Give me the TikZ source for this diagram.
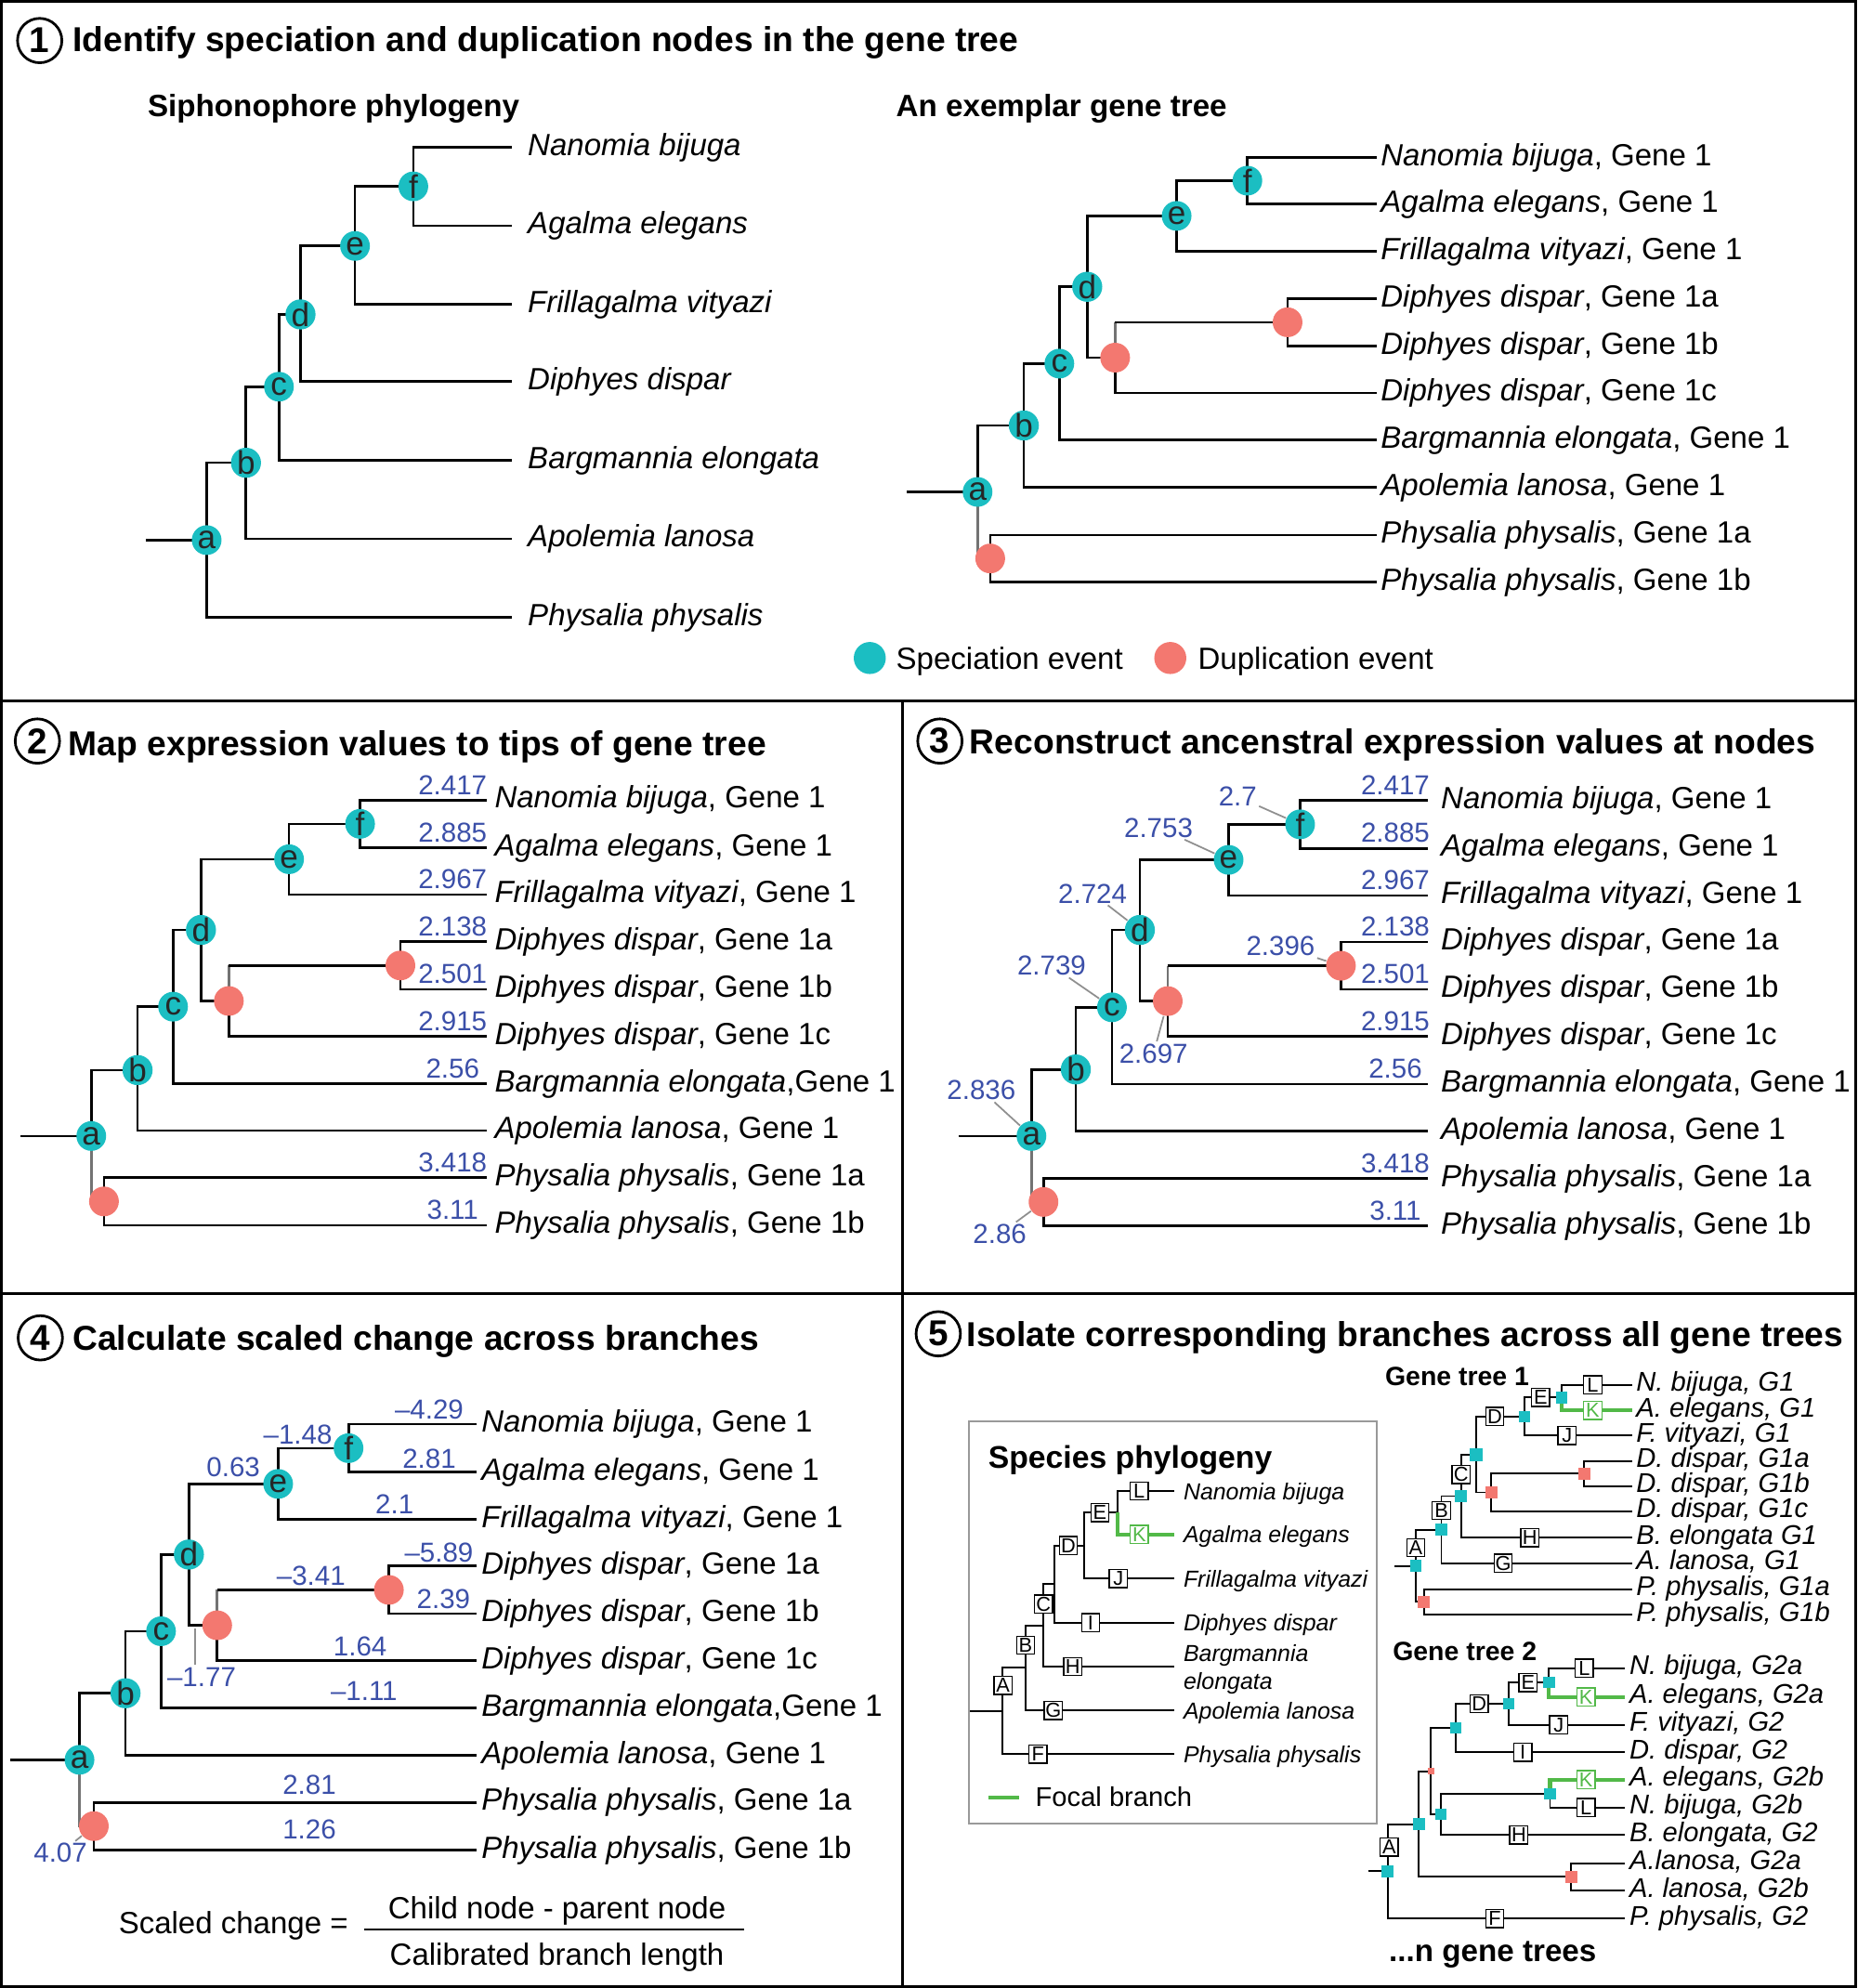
\documentclass[tikz,border=0pt]{standalone}
\usepackage{fontspec}
\setmainfont{Liberation Sans}
\usepackage{tikz}
\usetikzlibrary{backgrounds}
\usepackage{xcolor}
\definecolor{spteal}{HTML}{1BBEC2}
\definecolor{dupred}{HTML}{F37870}
\definecolor{valblue}{HTML}{3B4FA8}
\definecolor{focgreen}{HTML}{52B948}
\definecolor{leadgray}{HTML}{8F8F8F}
\newcommand\fsp{\fontsize{9.4}{11}\selectfont}
\newcommand\fttl{\fontsize{10.6}{12}\selectfont\bfseries}
\newcommand\fsub{\fontsize{9.45}{11}\selectfont\bfseries}
\newcommand\fval{\fontsize{8.4}{10}\selectfont}
\newcommand\fnode{\fontsize{10}{12}\selectfont}
\newcommand\fnum{\fontsize{11}{12}\selectfont\bfseries}
\newcommand\fgen{\fontsize{8.3}{10}\selectfont\itshape}
\newcommand\fgtl{\fontsize{8.1}{10}\selectfont\bfseries}
\newcommand\fspb{\fontsize{7.1}{8.5}\selectfont\itshape}
\newcommand\fltr{\fontsize{6.2}{7}\selectfont}
\tikzset{spec/.style = {shape=circle,fill=spteal,inner sep=0pt,minimum size=0.32cm,font=\fnode,text=black!85}}
\tikzset{dup/.style = {shape=circle,fill=dupred,inner sep=0pt,minimum size=0.32cm}}
\tikzset{edge/.style = {line width=0.75pt}}
\tikzset{edgeg/.style = {line width=0.75pt,draw=black!55}}
\tikzset{leaf/.style = {anchor=base west,inner sep=0pt,font=\fsp,xshift=#1,yshift=-2.5pt}}
\tikzset{val/.style = {anchor=south,inner sep=1.5pt,font=\fval,text=valblue}}
\tikzset{bval/.style = {inner sep=0.5pt,font=\fval,text=valblue}}
\tikzset{lead/.style = {draw=leadgray,line width=0.5pt}}
\tikzset{num/.style = {shape=circle,draw,line width=0.8pt,inner sep=0pt,minimum size=0.478cm,font=\fnum}}
\tikzset{ttl/.style = {anchor=base west,inner sep=0pt,font=\fttl}}
\tikzset{subttl/.style = {anchor=base west,inner sep=0pt,font=\fsub}}
\tikzset{legt/.style = {anchor=base west,inner sep=0pt,font=\fsp}}
\tikzset{frame/.style = {line width=0.8pt}}
\tikzset{gedge/.style = {line width=0.55pt}}
\tikzset{focal/.style = {line width=1.15pt,draw=focgreen}}
\tikzset{lbox/.style = {draw,fill=white,line width=0.4pt,inner sep=0pt,minimum size=0.195cm,font=\fltr}}
\tikzset{lboxg/.style = {lbox,draw=focgreen,text=focgreen}}
\tikzset{tsq/.style = {fill=spteal,inner sep=0pt,minimum size=0.125cm}}
\tikzset{rsq/.style = {fill=dupred,inner sep=0pt,minimum size=0.125cm}}
\tikzset{gleaf/.style = {anchor=base west,inner sep=0pt,font=\fgen,xshift=1.2pt,yshift=-2pt}}
\tikzset{qleaf/.style = {anchor=base west,inner sep=0pt,font=\fspb,xshift=2.7pt,yshift=-2.6pt}}
\tikzset{gtl/.style = {anchor=base west,inner sep=0pt,font=\fgtl}}

\begin{document}
\begin{tikzpicture}[x=0.01365cm,y=-0.01365cm]
		\useasboundingbox (0,0) rectangle (1465,1568);
		% frame
		\draw[frame] (1,1) rectangle (1463.5,1567);
		\draw[frame] (1,553) -- (1463.5,553);
		\draw[frame] (1,1020) -- (1463.5,1020);
		\draw[frame] (712,553) -- (712,1567);

		% panel 1
		\node[num] (h1) at (31.3,32) {1};
		\node[ttl] (t1) at (57,41) {Identify speciation and duplication nodes in the gene tree};
		\node[subttl] (s1) at (116,92.2) {Siphonophore phylogeny};
		\node[subttl] (s2) at (706.3,92.2) {An exemplar gene tree};
		% species tree vertices
		\coordinate (sr) at (115,426);
		\node[spec] (sa) at (163,426) {a};
		\node[spec] (sb) at (194,365) {b};
		\node[spec] (sc) at (220,305) {c};
		\node[spec] (sd) at (237,248) {d};
		\node[spec] (se) at (280,194) {e};
		\node[spec] (sf) at (326,147) {f};
		\coordinate (st1) at (404,116);
		\coordinate (st2) at (404,178);
		\coordinate (st3) at (404,240);
		\coordinate (st4) at (404,301);
		\coordinate (st5) at (404,363);
		\coordinate (st6) at (404,425);
		\coordinate (st7) at (404,487);
		\node[leaf=4.6pt] (sl1) at (st1) {\textit{Nanomia bijuga}};
		\node[leaf=4.6pt] (sl2) at (st2) {\textit{Agalma elegans}};
		\node[leaf=4.6pt] (sl3) at (st3) {\textit{Frillagalma vityazi}};
		\node[leaf=4.6pt] (sl4) at (st4) {\textit{Diphyes dispar}};
		\node[leaf=4.6pt] (sl5) at (st5) {\textit{Bargmannia elongata}};
		\node[leaf=4.6pt] (sl6) at (st6) {\textit{Apolemia lanosa}};
		\node[leaf=4.6pt] (sl7) at (st7) {\textit{Physalia physalis}};
		% gene tree vertices
		\coordinate (gr) at (715,388);
		\node[spec] (ga) at (771,388) {a};
		\node[spec] (gb) at (807.5,335.6) {b};
		\node[spec] (gc) at (835.5,286.8) {c};
		\node[spec] (gd) at (857.5,226.2) {d};
		\node[spec] (ge) at (928,170.3) {e};
		\node[spec] (gf) at (983.8,142.5) {f};
		\node[dup] (gx0) at (781,440.5) {};
		\node[dup] (gx1) at (879.5,282.1) {};
		\node[dup] (gx2) at (1015.5,254.2) {};
		\coordinate (gt1) at (1086,124);
		\coordinate (gt2) at (1086,161);
		\coordinate (gt3) at (1086,198);
		\coordinate (gt4) at (1086,235.5);
		\coordinate (gt5) at (1086,273);
		\coordinate (gt6) at (1086,310);
		\coordinate (gt7) at (1086,347);
		\coordinate (gt8) at (1086,384.5);
		\coordinate (gt9) at (1086,422);
		\coordinate (gt10) at (1086,459);
		\node[leaf=1pt] (gl1) at (gt1) {\textit{Nanomia bijuga}, Gene 1};
		\node[leaf=1pt] (gl2) at (gt2) {\textit{Agalma elegans}, Gene 1};
		\node[leaf=1pt] (gl3) at (gt3) {\textit{Frillagalma vityazi}, Gene 1};
		\node[leaf=1pt] (gl4) at (gt4) {\textit{Diphyes dispar}, Gene 1a};
		\node[leaf=1pt] (gl5) at (gt5) {\textit{Diphyes dispar}, Gene 1b};
		\node[leaf=1pt] (gl6) at (gt6) {\textit{Diphyes dispar}, Gene 1c};
		\node[leaf=1pt] (gl7) at (gt7) {\textit{Bargmannia elongata}, Gene 1};
		\node[leaf=1pt] (gl8) at (gt8) {\textit{Apolemia lanosa}, Gene 1};
		\node[leaf=1pt] (gl9) at (gt9) {\textit{Physalia physalis}, Gene 1a};
		\node[leaf=1pt] (gl10) at (gt10) {\textit{Physalia physalis}, Gene 1b};
		% legend
		\node[spec,minimum size=0.345cm] (lg1) at (686,519) {};
		\node[legt] (lg1t) at (706.3,528) {Speciation event};
		\node[dup,minimum size=0.345cm] (lg2) at (923,519) {};
		\node[legt] (lg2t) at (944.4,528) {Duplication event};
		%edges
		\begin{scope}[on background layer]
		\draw[edge] (sr) -- (sa.center) |- (sb.center);
		\draw[edge] (sa.center) |- (st7);
		\draw[edge] (sc.center) -| (sb.center) |- (st6);
		\draw[edge] (sd.center) -| (sc.center) |- (st5);
		\draw[edge] (se.center) -| (sd.center) |- (st4);
		\draw[edge] (sf.center) -| (se.center) |- (st3);
		\draw[edge] (st1) -| (sf.center) |- (st2);
		\draw[edge] (gr) -- (ga.center) |- (gb.center);
		\draw[edgeg] (ga.center) |- (gx0.center);
		\draw[edge] (gt9) -| (gx0.center) |- (gt10);
		\draw[edge] (gc.center) -| (gb.center) |- (gt8);
		\draw[edge] (gd.center) -| (gc.center) |- (gt7);
		\draw[edge] (ge.center) -| (gd.center) |- (gx1.center);
		\draw[edgeg] (gx1.center) -- (gx1.center |- gx2.center);
		\draw[edge] (gx1.center |- gx2.center) -- (gx2.center);
		\draw[edge] (gx1.center) |- (gt6);
		\draw[edge] (gt4) -| (gx2.center) |- (gt5);
		\draw[edge] (gf.center) -| (ge.center) |- (gt3);
		\draw[edge] (gt1) -| (gf.center) |- (gt2);
		\end{scope}

		% panel 2
		\node[num] (h2) at (29.5,584.5) {2};
		\node[ttl] (t2) at (53.6,596) {Map expression values to tips of gene tree};
		\coordinate (mr) at (16,896);
		\node[spec] (ma) at (72,896) {a};
		\node[spec] (mb) at (108.5,844) {b};
		\node[spec] (mc) at (136.5,794) {c};
		\node[spec] (md) at (158.5,733.5) {d};
		\node[spec] (me) at (228,677.7) {e};
		\node[spec] (mf) at (284,649.8) {f};
		\node[dup] (mx0) at (82,947.6) {};
		\node[dup] (mx1) at (180.5,789.5) {};
		\node[dup] (mx2) at (315.8,761.5) {};
		\coordinate (mt1) at (384,631);
		\coordinate (mt2) at (384,668.5);
		\coordinate (mt3) at (384,705.6);
		\coordinate (mt4) at (384,742.7);
		\coordinate (mt5) at (384,780.4);
		\coordinate (mt6) at (384,817.5);
		\coordinate (mt7) at (384,854.6);
		\coordinate (mt8) at (384,891.7);
		\coordinate (mt9) at (384,928.8);
		\coordinate (mt10) at (384,966.5);
		\node[leaf=2.2pt] (ml1) at (mt1) {\textit{Nanomia bijuga}, Gene 1};
		\node[leaf=2.2pt] (ml2) at (mt2) {\textit{Agalma elegans}, Gene 1};
		\node[leaf=2.2pt] (ml3) at (mt3) {\textit{Frillagalma vityazi}, Gene 1};
		\node[leaf=2.2pt] (ml4) at (mt4) {\textit{Diphyes dispar}, Gene 1a};
		\node[leaf=2.2pt] (ml5) at (mt5) {\textit{Diphyes dispar}, Gene 1b};
		\node[leaf=2.2pt] (ml6) at (mt6) {\textit{Diphyes dispar}, Gene 1c};
		\node[leaf=2.2pt] (ml7) at (mt7) {\textit{Bargmannia elongata},Gene 1};
		\node[leaf=2.2pt] (ml8) at (mt8) {\textit{Apolemia lanosa}, Gene 1};
		\node[leaf=2.2pt] (ml9) at (mt9) {\textit{Physalia physalis}, Gene 1a};
		\node[leaf=2.2pt] (ml10) at (mt10) {\textit{Physalia physalis}, Gene 1b};
		\node[val] (mv1) at (357,631) {2.417};
		\node[val] (mv2) at (357,668.5) {2.885};
		\node[val] (mv3) at (357,705.6) {2.967};
		\node[val] (mv4) at (357,742.7) {2.138};
		\node[val] (mv5) at (357,780.4) {2.501};
		\node[val] (mv6) at (357,817.5) {2.915};
		\node[val] (mv7) at (357,854.6) {2.56};
		\node[val] (mv9) at (357,928.8) {3.418};
		\node[val] (mv10) at (357,966.5) {3.11};
		\begin{scope}[on background layer]
		\draw[edge] (mr) -- (ma.center) |- (mb.center);
		\draw[edgeg] (ma.center) |- (mx0.center);
		\draw[edge] (mt9) -| (mx0.center) |- (mt10);
		\draw[edge] (mc.center) -| (mb.center) |- (mt8);
		\draw[edge] (md.center) -| (mc.center) |- (mt7);
		\draw[edge] (me.center) -| (md.center) |- (mx1.center);
		\draw[edgeg] (mx1.center) -- (mx1.center |- mx2.center);
		\draw[edge] (mx1.center |- mx2.center) -- (mx2.center);
		\draw[edge] (mx1.center) |- (mt6);
		\draw[edge] (mt4) -| (mx2.center) |- (mt5);
		\draw[edge] (mf.center) -| (me.center) |- (mt3);
		\draw[edge] (mt1) -| (mf.center) |- (mt2);
		\end{scope}

		% panel 3
		\node[num] (h3) at (741.3,584.5) {3};
		\node[ttl] (t3) at (764.4,594.3) {Reconstruct ancenstral expression values at nodes};
		\coordinate (rr) at (756,896);
		\node[spec] (ra) at (813.5,896) {a};
		\node[spec] (rb) at (848.5,843.5) {b};
		\node[spec] (rc) at (877,794.5) {c};
		\node[spec] (rd) at (899,733.5) {d};
		\node[spec] (re) at (969,678.2) {e};
		\node[spec] (rf) at (1025.4,650.2) {f};
		\node[dup] (rx0) at (823,948) {};
		\node[dup] (rx1) at (921,789.6) {};
		\node[dup] (rx2) at (1057.6,761.7) {};
		\coordinate (rt1) at (1126.5,631.4);
		\coordinate (rt2) at (1126.5,669.1);
		\coordinate (rt3) at (1126.5,706.2);
		\coordinate (rt4) at (1126.5,743);
		\coordinate (rt5) at (1126.5,780.4);
		\coordinate (rt6) at (1126.5,817.5);
		\coordinate (rt7) at (1126.5,855.2);
		\coordinate (rt8) at (1126.5,892.3);
		\coordinate (rt9) at (1126.5,929.4);
		\coordinate (rt10) at (1126.5,966.8);
		\node[leaf=3.7pt] (rl1) at (rt1) {\textit{Nanomia bijuga}, Gene 1};
		\node[leaf=3.7pt] (rl2) at (rt2) {\textit{Agalma elegans}, Gene 1};
		\node[leaf=3.7pt] (rl3) at (rt3) {\textit{Frillagalma vityazi}, Gene 1};
		\node[leaf=3.7pt] (rl4) at (rt4) {\textit{Diphyes dispar}, Gene 1a};
		\node[leaf=3.7pt] (rl5) at (rt5) {\textit{Diphyes dispar}, Gene 1b};
		\node[leaf=3.7pt] (rl6) at (rt6) {\textit{Diphyes dispar}, Gene 1c};
		\node[leaf=3.7pt] (rl7) at (rt7) {\textit{Bargmannia elongata}, Gene 1};
		\node[leaf=3.7pt] (rl8) at (rt8) {\textit{Apolemia lanosa}, Gene 1};
		\node[leaf=3.7pt] (rl9) at (rt9) {\textit{Physalia physalis}, Gene 1a};
		\node[leaf=3.7pt] (rl10) at (rt10) {\textit{Physalia physalis}, Gene 1b};
		\node[val] (rv1) at (1100.5,631.4) {2.417};
		\node[val] (rv2) at (1100.5,669.1) {2.885};
		\node[val] (rv3) at (1100.5,706.2) {2.967};
		\node[val] (rv4) at (1100.5,743) {2.138};
		\node[val] (rv5) at (1100.5,780.4) {2.501};
		\node[val] (rv6) at (1100.5,817.5) {2.915};
		\node[val] (rv7) at (1100.5,855.2) {2.56};
		\node[val] (rv9) at (1100.5,929.4) {3.418};
		\node[val] (rv10) at (1100.5,966.8) {3.11};
		% ancestral values
		\node[bval] (rnf) at (976.2,628.4) {2.7};
		\node[bval] (rne) at (913.7,652.8) {2.753};
		\node[bval] (rnd) at (861.7,704.7) {2.724};
		\node[bval] (rnc) at (829.4,761.7) {2.739};
		\node[bval] (rnx2) at (1010,746.3) {2.396};
		\node[bval] (rnx1) at (909.8,830.8) {2.697};
		\node[bval] (rna) at (774,859.9) {2.836};
		\node[bval] (rnx0) at (788.5,973.3) {2.86};
		\draw[lead] (rnf) -- (rf);
		\draw[lead] (rne) -- (re);
		\draw[lead] (rnd) -- (rd);
		\draw[lead] (rnc) -- (rc);
		\draw[lead] (rnx2) -- (rx2);
		\draw[lead] (rnx1) -- (rx1);
		\draw[lead] (rna) -- (ra);
		\draw[lead] (rnx0) -- (rx0);
		\begin{scope}[on background layer]
		\draw[edge] (rr) -- (ra.center) |- (rb.center);
		\draw[edgeg] (ra.center) |- (rx0.center);
		\draw[edge] (rt9) -| (rx0.center) |- (rt10);
		\draw[edge] (rc.center) -| (rb.center) |- (rt8);
		\draw[edge] (rd.center) -| (rc.center) |- (rt7);
		\draw[edge] (re.center) -| (rd.center) |- (rx1.center);
		\draw[edgeg] (rx1.center) -- (rx1.center |- rx2.center);
		\draw[edge] (rx1.center |- rx2.center) -- (rx2.center);
		\draw[edge] (rx1.center) |- (rt6);
		\draw[edge] (rt4) -| (rx2.center) |- (rt5);
		\draw[edge] (rf.center) -| (re.center) |- (rt3);
		\draw[edge] (rt1) -| (rf.center) |- (rt2);
		\end{scope}

		% panel 4
		\node[num] (h4) at (31.8,1055.2) {4};
		\node[ttl] (t4) at (56.8,1065) {Calculate scaled change across branches};
		\coordinate (kr) at (8,1388);
		\node[spec] (ka) at (62.7,1388) {a};
		\node[spec] (kb) at (99,1335.5) {b};
		\node[spec] (kc) at (127,1286.6) {c};
		\node[spec] (kd) at (149,1226.1) {d};
		\node[spec] (ke) at (219.4,1170.4) {e};
		\node[spec] (kf) at (274.9,1142.2) {f};
		\node[dup] (kx0) at (74,1440.3) {};
		\node[dup] (kx1) at (171.3,1281.9) {};
		\node[dup] (kx2) at (306.7,1254) {};
		\coordinate (kt1) at (376.2,1123.3);
		\coordinate (kt2) at (376.2,1161.1);
		\coordinate (kt3) at (376.2,1198.5);
		\coordinate (kt4) at (376.2,1235.2);
		\coordinate (kt5) at (376.2,1272.7);
		\coordinate (kt6) at (376.2,1309.7);
		\coordinate (kt7) at (376.2,1347.1);
		\coordinate (kt8) at (376.2,1384.5);
		\coordinate (kt9) at (376.2,1421.6);
		\coordinate (kt10) at (376.2,1459);
		\node[leaf=1.2pt] (kl1) at (kt1) {\textit{Nanomia bijuga}, Gene 1};
		\node[leaf=1.2pt] (kl2) at (kt2) {\textit{Agalma elegans}, Gene 1};
		\node[leaf=1.2pt] (kl3) at (kt3) {\textit{Frillagalma vityazi}, Gene 1};
		\node[leaf=1.2pt] (kl4) at (kt4) {\textit{Diphyes dispar}, Gene 1a};
		\node[leaf=1.2pt] (kl5) at (kt5) {\textit{Diphyes dispar}, Gene 1b};
		\node[leaf=1.2pt] (kl6) at (kt6) {\textit{Diphyes dispar}, Gene 1c};
		\node[leaf=1.2pt] (kl7) at (kt7) {\textit{Bargmannia elongata},Gene 1};
		\node[leaf=1.2pt] (kl8) at (kt8) {\textit{Apolemia lanosa}, Gene 1};
		\node[leaf=1.2pt] (kl9) at (kt9) {\textit{Physalia physalis}, Gene 1a};
		\node[leaf=1.2pt] (kl10) at (kt10) {\textit{Physalia physalis}, Gene 1b};
		% branch values
		\node[bval] (kv1) at (338.5,1111.8) {--4.29};
		\node[bval] (kv2) at (338.5,1150.3) {2.81};
		\node[bval] (kv3) at (234.9,1131.4) {--1.48};
		\node[bval] (kv4) at (184,1157.3) {0.63};
		\node[bval] (kv5) at (311.2,1186.3) {2.1};
		\node[bval] (kv6) at (346.2,1224.7) {--5.89};
		\node[bval] (kv7) at (245.3,1242.9) {--3.41};
		\node[bval] (kv8) at (349.8,1261.5) {2.39};
		\node[bval] (kv9) at (284,1298.9) {1.64};
		\node[bval] (kv10) at (159,1322.6) {--1.77};
		\node[bval] (kv11) at (287.1,1333.8) {--1.11};
		\node[bval] (kv12) at (244,1407.6) {2.81};
		\node[bval] (kv13) at (244,1442.6) {1.26};
		\node[bval] (kv14) at (47.7,1461.5) {4.07};
		\coordinate (kq10) at (153.6,1284.2);
		\draw[lead] (kv10.north -| kq10) -- (kq10);
		\draw[lead] (kv14) -- (kx0);
		% formula
		\node[legt] (kf1) at (93.1,1525.4) {Scaled change =};
		\node[anchor=base,inner sep=0pt,font=\fsp] (kf2) at (439.3,1513.2) {Child node - parent node};
		\node[anchor=base,inner sep=0pt,font=\fsp] (kf3) at (439.3,1550) {Calibrated branch length};
		\coordinate (kb1) at (287,1522);
		\coordinate (kb2) at (587,1522);
		\draw[line width=0.6pt] (kb1) -- (kb2);
		\begin{scope}[on background layer]
		\draw[edge] (kr) -- (ka.center) |- (kb.center);
		\draw[edgeg] (ka.center) |- (kx0.center);
		\draw[edge] (kt9) -| (kx0.center) |- (kt10);
		\draw[edge] (kc.center) -| (kb.center) |- (kt8);
		\draw[edge] (kd.center) -| (kc.center) |- (kt7);
		\draw[edge] (ke.center) -| (kd.center) |- (kx1.center);
		\draw[edgeg] (kx1.center) -- (kx1.center |- kx2.center);
		\draw[edge] (kx1.center |- kx2.center) -- (kx2.center);
		\draw[edge] (kx1.center) |- (kt6);
		\draw[edge] (kt4) -| (kx2.center) |- (kt5);
		\draw[edge] (kf.center) -| (ke.center) |- (kt3);
		\draw[edge] (kt1) -| (kf.center) |- (kt2);
		\end{scope}

		% panel 5
		\node[num] (h5) at (740,1052) {5};
		\node[ttl] (t5) at (762,1061.8) {Isolate corresponding branches across all gene trees};
		% species phylogeny box
		\draw[draw=black!40,line width=0.6pt] (764.5,1121) rectangle (1086,1438.6);
		\node[subttl,font=\fontsize{9.6}{11}\selectfont\bfseries] (q0) at (779,1157.8) {Species phylogeny};
		\coordinate (qr) at (765,1349.5);
		\coordinate (qa) at (790.5,1349.5);
		\coordinate (qb) at (808.9,1315.5);
		\coordinate (qc) at (823,1282);
		\coordinate (qd) at (831.6,1249.5);
		\coordinate (qe) at (855.3,1219.1);
		\coordinate (qk) at (881.4,1193.1);
		\coordinate (qt1) at (926,1176);
		\coordinate (qt2) at (926,1210.2);
		\coordinate (qt3) at (926,1245.1);
		\coordinate (qt4) at (926,1279.8);
		\coordinate (qt5) at (926,1314.5);
		\coordinate (qt6) at (926,1349);
		\coordinate (qt7) at (926,1383.6);
		\node[qleaf] (ql1) at (qt1) {Nanomia bijuga};
		\node[qleaf] (ql2) at (qt2) {Agalma elegans};
		\node[qleaf] (ql3) at (qt3) {Frillagalma vityazi};
		\node[qleaf] (ql4) at (qt4) {Diphyes dispar};
		\node[anchor=west,inner sep=0pt,font=\fspb,align=left,xshift=2.7pt,yshift=-0.8pt] (ql5) at (qt5) {Bargmannia\\elongata};
		\node[qleaf] (ql6) at (qt6) {Apolemia lanosa};
		\node[qleaf] (ql7) at (qt7) {Physalia physalis};
		\node[lbox] (qbA) at (791,1329.4) {A};
		\node[lbox] (qbB) at (808.9,1297.6) {B};
		\node[lbox] (qbC) at (823,1265.2) {C};
		\node[lbox] (qbD) at (842.6,1219.1) {D};
		\node[lbox] (qbE) at (867.5,1193.1) {E};
		\node[lbox] (qbF) at (818.6,1383.6) {F};
		\node[lbox] (qbG) at (830.8,1349) {G};
		\node[lbox] (qbH) at (846,1314.5) {H};
		\node[lbox] (qbI) at (860.2,1279.8) {I};
		\node[lbox] (qbJ) at (882.1,1245.1) {J};
		\node[lboxg] (qbK) at (898.5,1210.2) {K};
		\node[lbox] (qbL) at (898.5,1176) {L};
		\coordinate (fg1) at (779.5,1417.8);
		\coordinate (fg2) at (803.5,1417.8);
		\draw[focal] (fg1) -- (fg2);
		\node[anchor=base west,inner sep=0pt,font=\fontsize{8.3}{10}\selectfont] (fgt) at (816.2,1424.6) {Focal branch};
		\begin{scope}[on background layer]
		\draw[gedge] (qr) -- (qa) |- (qb);
		\draw[gedge] (qa) |- (qt7);
		\draw[gedge] (qc) -| (qb) |- (qt6);
		\draw[gedge] (qd) -| (qc) |- (qt5);
		\draw[gedge] (qe) -| (qd) |- (qt4);
		\draw[gedge] (qk) -| (qe) |- (qt3);
		\draw[gedge] (qt1) -| (qk);
		\draw[focal] (qk) |- (qt2);
		\end{scope}

		% gene tree 1
		\node[gtl] (u0) at (1092,1092.6) {Gene tree 1};
		\coordinate (ur) at (1100,1235);
		\node[tsq] (uA) at (1116.6,1235) {};
		\node[tsq] (uB) at (1136.8,1206.5) {};
		\node[tsq] (uC) at (1152.3,1180) {};
		\node[tsq,minimum size=0.14cm] (uCD) at (1164.1,1147.2) {};
		\node[tsq] (uD) at (1202.3,1117.3) {};
		\node[tsq] (uE) at (1231.8,1102.25) {};
		\node[rsq] (uX0) at (1123,1263.5) {};
		\node[rsq] (uX1) at (1176.2,1177.1) {};
		\node[rsq] (uX2) at (1249.5,1162.35) {};
		\coordinate (ut1) at (1287,1092.2);
		\coordinate (ut2) at (1287,1112.3);
		\coordinate (ut3) at (1287,1132.3);
		\coordinate (ut4) at (1287,1152.5);
		\coordinate (ut5) at (1287,1172.2);
		\coordinate (ut6) at (1287,1191.9);
		\coordinate (ut7) at (1287,1212.8);
		\coordinate (ut8) at (1287,1233);
		\coordinate (ut9) at (1287,1253.4);
		\coordinate (ut10) at (1287,1273.6);
		\node[gleaf] (ul1) at (ut1) {N. bijuga, G1};
		\node[gleaf] (ul2) at (ut2) {A. elegans, G1};
		\node[gleaf] (ul3) at (ut3) {F. vityazi, G1};
		\node[gleaf] (ul4) at (ut4) {D. dispar, G1a};
		\node[gleaf] (ul5) at (ut5) {D. dispar, G1b};
		\node[gleaf] (ul6) at (ut6) {D. dispar, G1c};
		\node[gleaf] (ul7) at (ut7) {B. elongata G1};
		\node[gleaf] (ul8) at (ut8) {A. lanosa, G1};
		\node[gleaf] (ul9) at (ut9) {P. physalis, G1a};
		\node[gleaf] (ul10) at (ut10) {P. physalis, G1b};
		\node[lbox] (ubL) at (1256.2,1092.2) {L};
		\node[lboxg] (ubK) at (1256.2,1112.3) {K};
		\node[lbox] (ubJ) at (1236,1132.3) {J};
		\node[lbox] (ubE) at (1215.1,1102.25) {E};
		\node[lbox] (ubD) at (1178.9,1117.3) {D};
		\node[lbox] (ubC) at (1152.3,1163) {C};
		\node[lbox] (ubB) at (1136.8,1191.4) {B};
		\node[lbox] (ubA) at (1116.6,1220.7) {A};
		\node[lbox] (ubH) at (1206.5,1212.8) {H};
		\node[lbox] (ubG) at (1185.5,1233) {G};
		\begin{scope}[on background layer]
		\draw[gedge] (ur) -- (uA.center) |- (uB.center);
		\draw[gedge] (uA.center) |- (uX0.center);
		\draw[gedge] (ut9) -| (uX0.center) |- (ut10);
		\draw[gedge] (uC.center) -| (uB.center) |- (ut8);
		\draw[gedge] (uCD.center) -| (uC.center) |- (ut7);
		\draw[gedge] (uD.center) -| (uCD.center) |- (uX1.center);
		\draw[gedge] (uX2.center) -| (uX1.center) |- (ut6);
		\draw[gedge] (ut4) -| (uX2.center) |- (ut5);
		\draw[gedge] (uE.center) -| (uD.center) |- (ut3);
		\draw[gedge] (ut1) -| (uE.center);
		\draw[focal] (uE.center) |- (ut2);
		\end{scope}

		% gene tree 2
		\node[gtl] (w0) at (1098,1309.4) {Gene tree 2};
		\coordinate (wr) at (1079,1476);
		\node[tsq] (wA) at (1094.4,1476) {};
		\node[tsq] (wB) at (1119.1,1438.7) {};
		\node[rsq,minimum size=0.07cm] (wX1) at (1128.4,1397) {};
		\node[tsq] (wC) at (1148.1,1363) {};
		\node[tsq] (wD) at (1190,1343.8) {};
		\node[tsq] (wE) at (1221.7,1327.1) {};
		\node[tsq] (wH) at (1136.3,1431.1) {};
		\node[tsq] (wK) at (1222.5,1414.75) {};
		\node[rsq] (wX2) at (1239.2,1480.35) {};
		\coordinate (wt1) at (1281.6,1315.7);
		\coordinate (wt2) at (1281.6,1338.5);
		\coordinate (wt3) at (1281.6,1360.5);
		\coordinate (wt4) at (1281.6,1382.1);
		\coordinate (wt5) at (1281.6,1403.8);
		\coordinate (wt6) at (1281.6,1425.7);
		\coordinate (wt7) at (1281.6,1447.4);
		\coordinate (wt8) at (1281.6,1469.5);
		\coordinate (wt9) at (1281.6,1491.2);
		\coordinate (wt10) at (1281.6,1513.3);
		\node[gleaf] (wl1) at (wt1) {N. bijuga, G2a};
		\node[gleaf] (wl2) at (wt2) {A. elegans, G2a};
		\node[gleaf] (wl3) at (wt3) {F. vityazi, G2};
		\node[gleaf] (wl4) at (wt4) {D. dispar, G2};
		\node[gleaf] (wl5) at (wt5) {A. elegans, G2b};
		\node[gleaf] (wl6) at (wt6) {N. bijuga, G2b};
		\node[gleaf] (wl7) at (wt7) {B. elongata, G2};
		\node[gleaf] (wl8) at (wt8) {A.lanosa, G2a};
		\node[gleaf] (wl9) at (wt9) {A. lanosa, G2b};
		\node[gleaf] (wl10) at (wt10) {P. physalis, G2};
		\node[lbox] (wbL1) at (1249.5,1315.7) {L};
		\node[lboxg] (wbK1) at (1250.8,1338.5) {K};
		\node[lbox] (wbE) at (1205.2,1327.1) {E};
		\node[lbox] (wbD) at (1166.6,1343.8) {D};
		\node[lbox] (wbJ) at (1229.4,1360.5) {J};
		\node[lbox] (wbI) at (1201,1382.1) {I};
		\node[lboxg] (wbK2) at (1250.8,1403.8) {K};
		\node[lbox] (wbL2) at (1250.8,1425.7) {L};
		\node[lbox] (wbH) at (1197.9,1447.4) {H};
		\node[lbox] (wbA) at (1095.7,1456.7) {A};
		\node[lbox] (wbF) at (1178.9,1513.3) {F};
		\node[subttl] (n0) at (1095,1547) {...n gene trees};
		\begin{scope}[on background layer]
		\draw[gedge] (wr) -- (wA.center) |- (wB.center);
		\draw[gedge] (wA.center) |- (wt10);
		\draw[gedge] (wX1.center) -| (wB.center) |- (wX2.center);
		\draw[gedge] (wt8) -| (wX2.center) |- (wt9);
		\draw[gedge] (wC.center) -| (wX1.center) |- (wH.center);
		\draw[gedge] (wK.center) -| (wH.center) |- (wt7);
		\draw[focal] (wt5) -| (wK.center);
		\draw[gedge] (wK.center) |- (wt6);
		\draw[gedge] (wD.center) -| (wC.center) |- (wt4);
		\draw[gedge] (wE.center) -| (wD.center) |- (wt3);
		\draw[gedge] (wt1) -| (wE.center);
		\draw[focal] (wE.center) |- (wt2);
		\end{scope}
	\end{tikzpicture}
\end{document}
